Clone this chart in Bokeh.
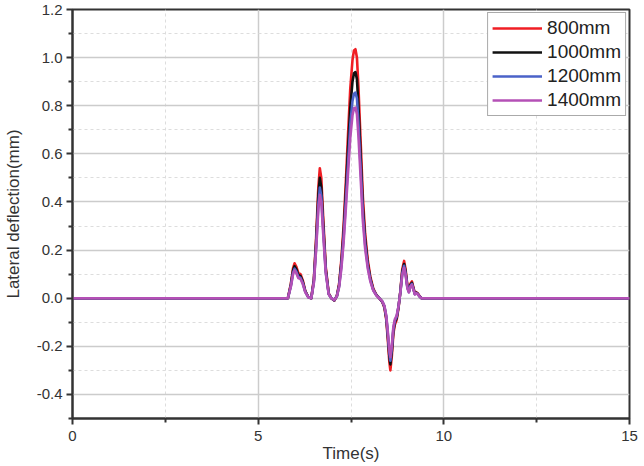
from bokeh.plotting import figure
from bokeh.embed import file_html
from bokeh.resources import INLINE
from bokeh.models import FixedTicker, NumeralTickFormatter, Range1d, Legend, LegendItem

time_s = [0, 5.80, 5.88, 5.94, 5.98, 6.03, 6.08, 6.14, 6.20, 6.27, 6.35,
          6.43, 6.50, 6.56, 6.62, 6.66, 6.70, 6.75, 6.82, 6.90, 6.97,
          7.05, 7.12, 7.18, 7.24, 7.30, 7.36, 7.42, 7.48, 7.54, 7.58,
          7.62, 7.66, 7.70, 7.76, 7.82, 7.88, 7.95, 8.02, 8.10, 8.18,
          8.26, 8.34, 8.40, 8.45, 8.49, 8.53, 8.56, 8.60, 8.64, 8.68,
          8.73, 8.78, 8.83, 8.88, 8.93, 8.97, 9.02, 9.06, 9.10, 9.14,
          9.18, 9.22, 9.26, 9.30, 9.34, 9.40, 15]

d800 = [0, 0, 0.06, 0.125, 0.145, 0.13, 0.105, 0.10, 0.075, 0.03, 0.005,
        0.0, 0.08, 0.25, 0.46, 0.54, 0.50, 0.34, 0.13, 0.02, 0.0,
        -0.01, 0.01, 0.06, 0.16, 0.30, 0.48, 0.68, 0.87, 0.99, 1.03,
        1.035, 1.00, 0.88, 0.65, 0.42, 0.27, 0.16, 0.09, 0.04, 0.015,
        0.0, -0.015, -0.04, -0.09, -0.17, -0.26, -0.30, -0.24, -0.15, -0.11,
        -0.09, -0.04, 0.03, 0.12, 0.155, 0.12, 0.05, 0.03, 0.06, 0.07,
        0.045, 0.02, 0.025, 0.02, 0.01, 0.0, 0]

d1000 = [0, 0, 0.055, 0.115, 0.133, 0.12, 0.097, 0.092, 0.069, 0.028, 0.005,
         0.0, 0.074, 0.23, 0.425, 0.50, 0.46, 0.31, 0.12, 0.018, 0.0,
         -0.009, 0.009, 0.055, 0.146, 0.27, 0.44, 0.62, 0.79, 0.90, 0.935,
         0.94, 0.91, 0.80, 0.59, 0.38, 0.245, 0.145, 0.082, 0.036, 0.014,
         0.0, -0.014, -0.036, -0.082, -0.155, -0.237, -0.275, -0.22, -0.137, -0.10,
         -0.082, -0.036, 0.027, 0.11, 0.142, 0.11, 0.046, 0.027, 0.055, 0.064,
         0.041, 0.018, 0.023, 0.018, 0.009, 0.0, 0]

d1200 = [0, 0, 0.051, 0.106, 0.123, 0.11, 0.089, 0.085, 0.064, 0.026, 0.004,
         0.0, 0.068, 0.21, 0.39, 0.46, 0.425, 0.29, 0.11, 0.017, 0.0,
         -0.008, 0.008, 0.05, 0.133, 0.25, 0.40, 0.56, 0.72, 0.82, 0.85,
         0.855, 0.83, 0.73, 0.54, 0.35, 0.225, 0.135, 0.076, 0.034, 0.013,
         0.0, -0.013, -0.034, -0.077, -0.145, -0.22, -0.26, -0.205, -0.128, -0.094,
         -0.077, -0.034, 0.026, 0.102, 0.135, 0.102, 0.043, 0.026, 0.051, 0.06,
         0.038, 0.017, 0.021, 0.017, 0.008, 0.0, 0]

d1400 = [0, 0, 0.048, 0.10, 0.116, 0.104, 0.084, 0.08, 0.06, 0.024, 0.004,
         0.0, 0.064, 0.20, 0.365, 0.43, 0.40, 0.27, 0.104, 0.016, 0.0,
         -0.008, 0.008, 0.046, 0.122, 0.23, 0.37, 0.52, 0.665, 0.76, 0.79,
         0.792, 0.765, 0.675, 0.50, 0.32, 0.207, 0.125, 0.07, 0.032, 0.012,
         0.0, -0.012, -0.032, -0.072, -0.137, -0.21, -0.245, -0.195, -0.12, -0.088,
         -0.072, -0.032, 0.024, 0.096, 0.127, 0.096, 0.04, 0.024, 0.048, 0.056,
         0.036, 0.016, 0.02, 0.016, 0.008, 0.0, 0]

series_labels = ["800mm", "1000mm", "1200mm", "1400mm"]
series_colors = ["#f01e24", "#111111", "#4a62c8", "#b450b6"]
series_data = [d800, d1000, d1200, d1400]

x_ticks = [0, 5, 10, 15]
y_ticks = [-0.4, -0.2, 0.0, 0.2, 0.4, 0.6, 0.8, 1.0, 1.2]
y_minor = [-0.5, -0.3, -0.1, 0.1, 0.3, 0.5, 0.7, 0.9, 1.1]
x_minor = [2.5, 7.5, 12.5]

FONT = "Liberation Sans"

p = figure(width=644, height=466, output_backend="svg", toolbar_location=None,
           x_range=Range1d(0, 15), y_range=Range1d(-0.5, 1.2),
           min_border_left=71, min_border_right=15, min_border_top=9, min_border_bottom=48)
p.background_fill_color = "white"
p.border_fill_color = "white"
p.outline_line_color = "#333333"
p.outline_line_width = 2

p.xaxis.ticker = FixedTicker(ticks=x_ticks, minor_ticks=x_minor)
p.yaxis.ticker = FixedTicker(ticks=y_ticks, minor_ticks=y_minor)
p.yaxis.formatter = NumeralTickFormatter(format="0.0")

for ax in (p.xaxis, p.yaxis):
    ax.axis_line_width = 2
    ax.axis_line_color = "#333333"
    ax.major_tick_line_color = "#333333"
    ax.major_tick_line_width = 2
    ax.minor_tick_line_color = "#333333"
    ax.minor_tick_line_width = 2
    ax.major_tick_in = 0
    ax.major_tick_out = 6
    ax.minor_tick_in = 0
    ax.minor_tick_out = 4
    ax.major_label_text_font = FONT
    ax.major_label_text_font_size = "15px"
    ax.major_label_text_color = "#333333"
    ax.axis_label_text_font = FONT
    ax.axis_label_text_font_size = "17px"
    ax.axis_label_text_font_style = "normal"
    ax.axis_label_text_color = "#333333"

p.xaxis.axis_label = "Time(s)"
p.yaxis.axis_label = "Lateral deflection(mm)"
p.xaxis.major_label_standoff = 6
p.yaxis.major_label_standoff = 4
p.xaxis.axis_label_standoff = 0
p.yaxis.axis_label_standoff = 11

for g in (p.xgrid, p.ygrid):
    g.grid_line_color = "#cccccc"
    g.grid_line_width = 1.5
    g.minor_grid_line_color = "#dddddd"
    g.minor_grid_line_dash = "3 3"
    g.minor_grid_line_width = 1

items = []
for lab, col, data in zip(series_labels, series_colors, series_data):
    r = p.line(time_s, data, line_color=col, line_width=2.6, line_join="round")
    items.append(LegendItem(label=lab, renderers=[r]))

legend = Legend(items=items, location="top_right")
legend.margin = 3
legend.padding = 4
legend.spacing = 2
legend.glyph_width = 50
legend.glyph_height = 22
legend.label_height = 22
legend.label_standoff = 5
legend.label_text_font = FONT
legend.label_text_font_size = "19px"
legend.label_text_color = "#222222"
legend.border_line_color = "#555555"
legend.border_line_width = 1.5
legend.background_fill_alpha = 1.0
p.add_layout(legend)

open("out.html", "w").write(file_html(p, INLINE))
